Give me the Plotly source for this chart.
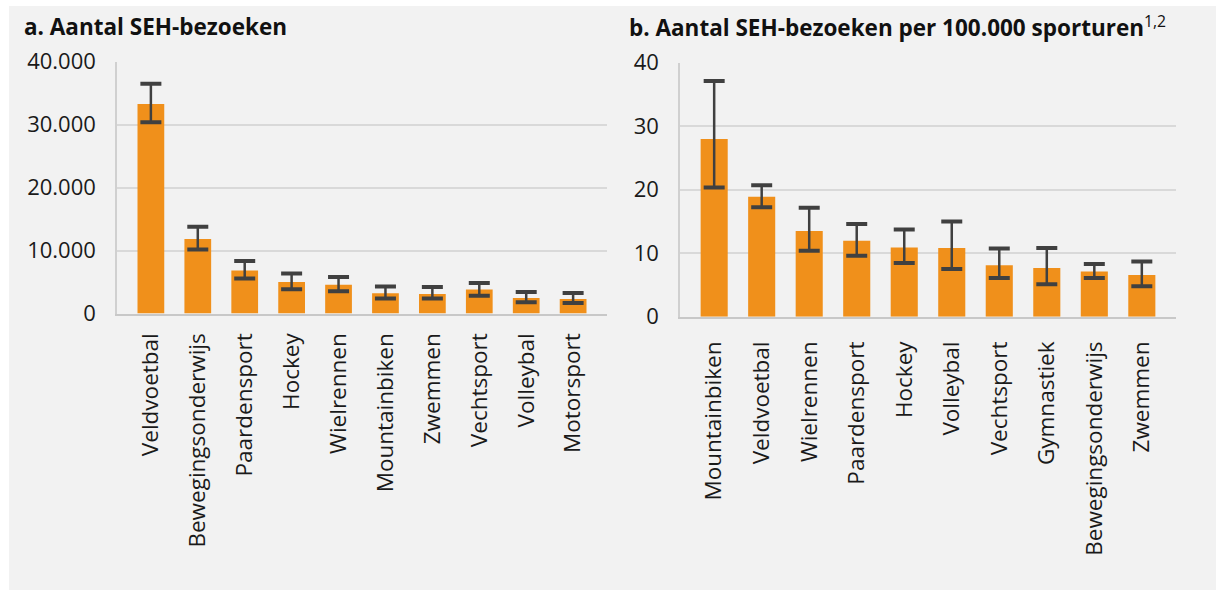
import plotly.graph_objects as go

# a. Aantal SEH-bezoeken
sports_a = ["Veldvoetbal", "Bewegingsonderwijs", "Paardensport", "Hockey", "Wielrennen",
            "Mountainbiken", "Zwemmen", "Vechtsport", "Volleybal", "Motorsport"]
visits_a = [33300, 11850, 6850, 5000, 4550, 3200, 3100, 3800, 2480, 2320]
upper_a = [36500, 13800, 8350, 6350, 5800, 4300, 4200, 4850, 3400, 3250]
lower_a = [30400, 10150, 5550, 3850, 3550, 2400, 2400, 2800, 1800, 1650]

# b. Aantal SEH-bezoeken per 100.000 sporturen
sports_b = ["Mountainbiken", "Veldvoetbal", "Wielrennen", "Paardensport", "Hockey",
            "Volleybal", "Vechtsport", "Gymnastiek", "Bewegingsonderwijs", "Zwemmen"]
rate_b = [28.0, 18.9, 13.5, 11.95, 10.9, 10.8, 8.1, 7.65, 7.1, 6.55]
upper_b = [37.1, 20.7, 17.15, 14.6, 13.75, 15.0, 10.75, 10.8, 8.3, 8.7]
lower_b = [20.35, 17.25, 10.4, 9.6, 8.45, 7.5, 6.1, 5.1, 6.1, 4.8]

W, H = 1216, 591
ORANGE = "#F0901B"
DARK = "#404040"
FONT = "Open Sans"


def px_x(x):
    return x / W


def px_y(y):
    return 1 - y / H


fig = go.Figure()


def add_panel(cats, vals, up, lo, xa, ya):
    fig.add_trace(go.Bar(
        x=cats, y=vals, marker_color=ORANGE, marker_line_width=0,
        error_y=dict(type="data", symmetric=False,
                     array=[u - v for u, v in zip(up, vals)],
                     arrayminus=[v - l for v, l in zip(vals, lo)],
                     color=DARK, thickness=2.5, width=0),
        xaxis=xa, yaxis=ya, showlegend=False, hoverinfo="skip"))
    # caps of the error bars
    fig.add_trace(go.Scatter(
        x=cats + cats, y=up + lo, mode="markers",
        marker=dict(symbol="line-ew", size=15, line=dict(width=4, color=DARK)),
        xaxis=xa, yaxis=ya, showlegend=False, hoverinfo="skip"))


add_panel(sports_a, visits_a, upper_a, lower_a, "x", "y")
add_panel(sports_b, rate_b, upper_b, lower_b, "x2", "y2")

tick_font = dict(family=FONT, size=22, color="#1a1a1a")
cat_font = dict(family=FONT, size=22.5, color="#1a1a1a")
xcommon = dict(tickangle=-90, tickfont=cat_font, showline=True, linecolor="#c8c8c8",
               linewidth=1.5, showgrid=False, ticks="", automargin=False)
ycommon = dict(tickfont=tick_font, showline=True, linecolor="#d0d0d0", linewidth=1.5,
               showgrid=True, gridcolor="#d9d9d9", gridwidth=1.5, ticks="",
               zeroline=False, automargin=False, ticklabelstandoff=15)

fig.update_layout(
    width=W, height=H,
    margin=dict(l=0, r=0, t=0, b=0),
    paper_bgcolor="white", plot_bgcolor="rgba(0,0,0,0)",
    separators=",.",
    bargap=0.43,
    font=dict(family=FONT, color="#1a1a1a"),
    xaxis=dict(domain=[px_x(117), px_x(607)], anchor="y", ticklabelstandoff=9, **xcommon),
    yaxis=dict(domain=[px_y(313.5), px_y(61.7)], anchor="x", range=[0, 40000],
               dtick=10000, tickformat=",d", **ycommon),
    xaxis2=dict(domain=[px_x(680), px_x(1176)], anchor="y2", ticklabelstandoff=14, **xcommon),
    yaxis2=dict(domain=[px_y(316.7), px_y(62.7)], anchor="x2", range=[0, 40],
                dtick=10, **ycommon),
    shapes=[dict(type="rect", xref="paper", yref="paper", layer="below",
                 x0=px_x(9), x1=1, y0=px_y(590), y1=px_y(6),
                 fillcolor="#f2f2f2", line_width=0)],
    annotations=[
        dict(text="<b>a. Aantal SEH-bezoeken</b>", xref="paper", yref="paper",
             x=px_x(22), y=px_y(26), xanchor="left", yanchor="middle", showarrow=False,
             font=dict(family=FONT, size=22.5, color="#111111")),
        dict(text="<b>b. Aantal SEH-bezoeken per 100.000 sporturen</b><sup>1,2</sup>",
             xref="paper", yref="paper",
             x=px_x(627), y=px_y(26), xanchor="left", yanchor="middle", showarrow=False,
             font=dict(family=FONT, size=22.5, color="#111111")),
    ],
)

fig.write_html("out.html", config={"displayModeBar": False},
               post_script="document.body.style.margin='0';")
